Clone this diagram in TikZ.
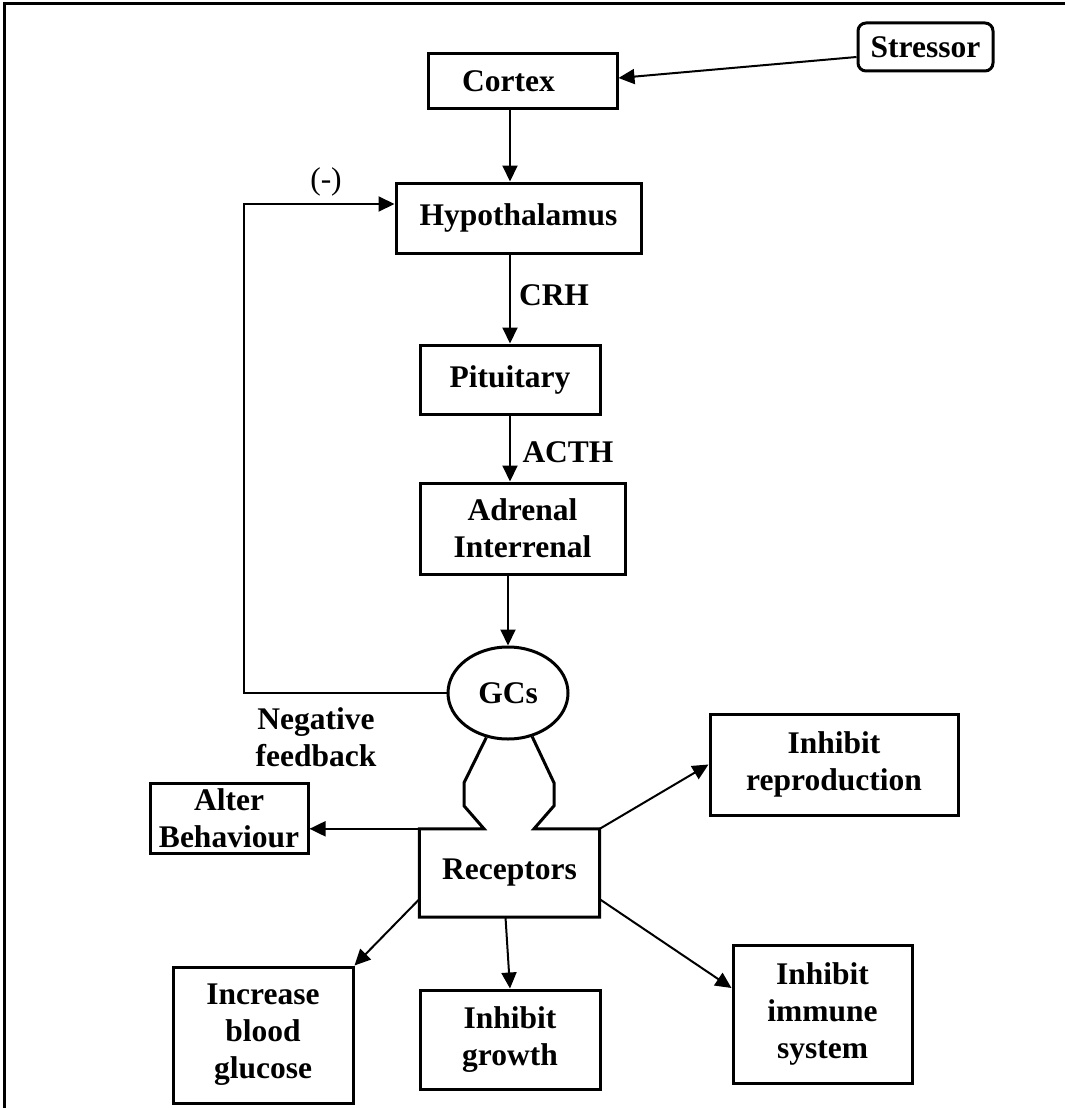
\documentclass[tikz,border=0pt]{standalone}
\usepackage{fontspec}
\setmainfont{Liberation Serif}
\usetikzlibrary{arrows.meta,calc,shapes.geometric}
\begin{document}
\begin{tikzpicture}[x=1pt,y=-1pt,
  txt/.style={font=\bfseries\fontsize{31.5}{37}\selectfont, align=center, inner sep=0pt},
  box/.style={txt, draw, line width=3pt, minimum width=#1},
  box/.default=100pt,
  arr/.style={line width=2pt, -{Triangle[length=16pt,width=15pt]}},
  ln/.style={line width=2pt}
]
\useasboundingbox (0,0) rectangle (1065,1108);
\draw[line width=3pt] (4,1108) -- (4,4) -- (1065,4);

\node[box=135pt, minimum height=48pt, rounded corners=8pt] (stressor) at (925.5,47) {Stressor};
\node[box=189pt, minimum height=54pt] (cortex) at (522.5,81) {Cortex\hspace*{28pt}};
\node[box=245pt, minimum height=70pt] (hypo) at (518.5,218) {Hypothalamus};
\node[box=180pt, minimum height=69pt] (pit) at (510,379.5) {Pituitary};
\node[box=205pt, minimum height=91pt] (adrenal) at (522.5,528.5) {Adrenal\\Interrenal};
\node[txt, draw, line width=3pt, ellipse, minimum width=120pt, minimum height=92pt] (gcs) at (508,693) {GCs};
\node[txt, minimum width=180pt, minimum height=88pt] (rec) at (509.5,873) {Receptors};
\node[box=158pt, minimum height=70pt] (alter) at (229,818) {Alter\\Behaviour};
\node[box=248pt, minimum height=101pt] (repro) at (834,764.5) {Inhibit\\reproduction};
\node[box=180pt, minimum height=136pt] (glucose) at (263,1035) {Increase\\blood\\glucose};
\node[box=180pt, minimum height=99pt] (growth) at (510,1039.5) {Inhibit\\growth};
\node[box=179pt, minimum height=138pt] (immune) at (822.5,1014) {Inhibit\\immune\\system};

\node[txt] (crh) at (554,295) {CRH};
\node[txt] (acth) at (568,452) {ACTH};
\node[font=\fontsize{31.5}{37}\selectfont, inner sep=0pt] (minus) at (326,182) {(-)};
\node[txt] (negfb) at (316,737) {Negative\\feedback};

% receptor outline
\draw[line width=3pt, line join=miter]
  (gcs.244) -- ($(rec.north)+(-45.5,-46)$) -- ($(rec.north)+(-45.5,-23)$)
  -- ($(rec.north)+(-25.5,0)$) -- (rec.north west) -- (rec.south west)
  -- (rec.south east) -- (rec.north east) -- ($(rec.north)+(24.5,0)$)
  -- ($(rec.north)+(44.5,-23)$) -- ($(rec.north)+(44.5,-46)$) -- (gcs.299);

% main chain
\draw[arr] ([yshift=-10pt]stressor.west) -- ([yshift=3pt]cortex.east);
\draw[arr] (cortex.south -| pit) -- (hypo.north -| pit);
\draw[arr] (hypo.south -| pit) -- (pit.north);
\draw[arr] (pit.south) -- (adrenal.north -| pit);
\draw[arr] (adrenal.south -| gcs) -- (gcs.north);

% feedback
\coordinate (fbc) at (244,204);
\draw[arr] (gcs.west) -| (fbc) -- (fbc -| hypo.west);

% outputs
\draw[arr] (rec.north west) -- (alter.east |- rec.north west);
\draw[arr] (rec.north east) -- (repro.west);
\draw[arr] ([yshift=18pt]rec.south west) -- (glucose.north east);
\draw[arr] ([xshift=-4pt]rec.south) -- (growth.north);
\draw[arr] ([yshift=18pt]rec.south east) -- ([yshift=26pt]immune.west);
\end{tikzpicture}
\end{document}
